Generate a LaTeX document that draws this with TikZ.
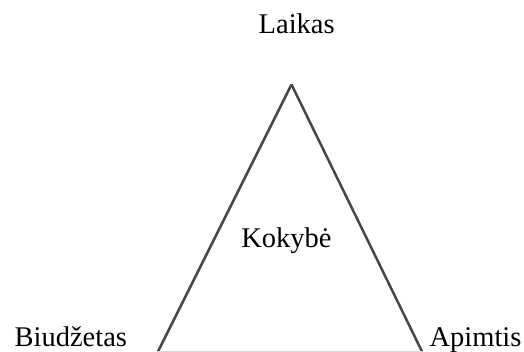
\documentclass[tikz,border=0pt]{standalone}
\usepackage{fontspec}
\setmainfont{Liberation Serif}
\begin{document}
\begin{tikzpicture}[x=1pt,y=-1pt,
  lbl/.style={anchor=base,inner sep=0pt,font=\fontsize{28.5}{34}\selectfont,text=black},
  edge/.style={draw=black!72,line width=2.5pt,line join=miter}]
\useasboundingbox (0,0) rectangle (524,351);
\begin{scope}
\clip (0,0) rectangle (524,351);
\coordinate (top) at (291.5,84.5);
\coordinate (bl) at (158,351.5);
\coordinate (br) at (422,351.5);
\draw[edge] (top) -- (br);
\draw[edge] (top) -- (bl);
\draw[draw=black!15,line width=2pt] (bl) -- (br);
\end{scope}
\node[lbl] (laikas) at (296.7,33) {Laikas};
\node[lbl] (kokybe) at (286.5,247) {Kokybė};
\node[lbl] (biudzetas) at (70.8,346.7) {Biudžetas};
\node[lbl] (apimtis) at (475.5,346.7) {Apimtis};
\end{tikzpicture}
\end{document}
